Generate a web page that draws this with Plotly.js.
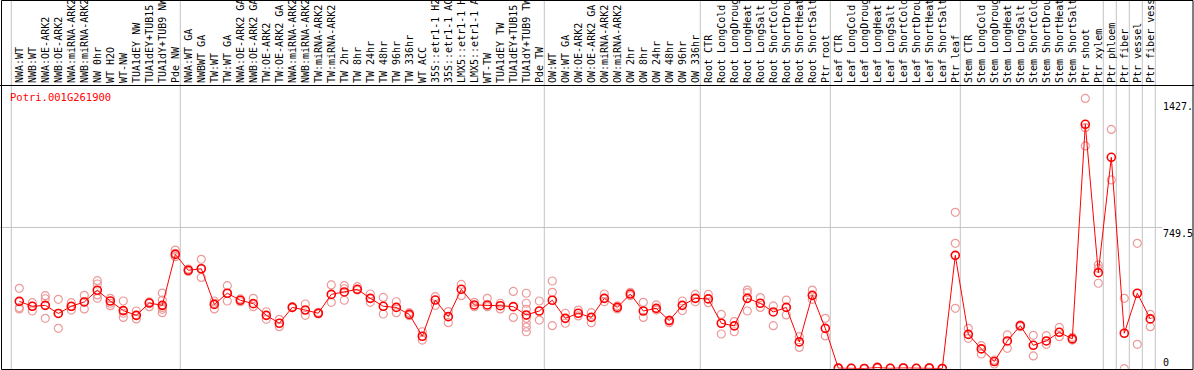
<!DOCTYPE html>
<html><head><meta charset="utf-8">
<script src="https://cdn.plot.ly/plotly-3.0.1.min.js"></script>
<style>html,body{margin:0;padding:0;background:#fff;overflow:hidden;} #chart{width:1194px;height:370px;}</style>
</head><body><div id="chart"></div>
<script>
const geneId = 'Potri.001G261900';

const categories = [
  'NWA:WT','NWB:WT','NWA:OE-ARK2','NWB:OE-ARK2','NWA:miRNA-ARK2','NWB:miRNA-ARK2','NW 0hr','WT H2O','WT-NW','TUA1dEY NW','TUA1dEY+TUB15','TUA1dY+TUB9 NW','Pde NW',
  'NWA:WT GA','NWBWT GA','TW:WT','TW:WT GA','NWA:OE-ARK2 GA','NWB:OE-ARK2 GA','TW:OE-ARK2','TW:OE-ARK2 GA','NWA:miRNA-ARK2','NWB:miRNA-ARK2','TW:miRNA-ARK2','TW:miRNA-ARK2',
  'TW 2hr','TW 8hr','TW 24hr','TW 48hr','TW 96hr','TW 336hr','WT ACC','35S::etr1-1 H2','35S::etr1-1 AC','LMX5::etr1-1 H','LMX5::etr1-1 A','WT-TW','TUA1dEY TW','TUA1dEY+TUB15','TUA1dY+TUB9 TW','Pde TW',
  'OW:WT','OW:WT GA','OW:OE-ARK2','OW:OE-ARK2 GA','OW:miRNA-ARK2','OW:miRNA-ARK2','OW 2hr','OW 8hr','OW 24hr','OW 48hr','OW 96hr','OW 336hr',
  'Root CTR','Root LongCold','Root LongDroug','Root LongHeat','Root LongSalt','Root ShortCold','Root ShortDrou','Root ShortHeat','Root ShortSalt','Ptr root',
  'Leaf CTR','Leaf LongCold','Leaf LongDroug','Leaf LongHeat','Leaf LongSalt','Leaf ShortCold','Leaf ShortDrou','Leaf ShortHeat','Leaf ShortSalt','Ptr leaf',
  'Stem CTR','Stem LongCold','Stem LongDroug','Stem LongHeat','Stem LongSalt','Stem ShortCold','Stem ShortDrou','Stem ShortHeat','Stem ShortSalt','Ptr shoot',
  'Ptr xylem','Ptr phloem','Ptr fiber','Ptr vessel','Ptr fiber vess'
];

const means = [
  357,331,336,293,331,354,416,359,308,283,348,336,606,
  522,530,341,400,363,345,283,241,325,311,294,
  394,407,421,373,331,325,288,172,364,276,421,338,338,334,329,285,306,
  363,267,294,272,373,325,396,306,320,255,336,373,
  370,241,227,373,347,301,325,142,389,214,
  3,2,1,6,2,4,2,4,1,601,
  182,105,38,147,228,124,147,193,158,1296,
  509,1121,188,400,264
];

const samples = [
  [426,324,317],[350,332,306],[387,371,267],[368,294,214],[350,311,329],[389,317,354],[467,449,391,373],[373,334,347],[359,272,294],[306,264,283],[348,329,354],[401,364,315,297,325],[629,594,612],
  [528,516],[580,484,530],[359,317,347],[440,359,400],[370,355],[373,329],[302,262],[262,223],[329,324],[343,283],[299,290],
  [444,352],[440,424,363],[435,417],[396,352],[378,290],[355,297],[297,281],[196,152],[382,336],[303,244],[447,387],[352,329],[373,329],[347,317],[410,272],[400,347,315,267,241,220,196],[359,258],
  [465,405,228],[294,241],[311,280],[297,244],[396,355],[333,317],[405,387],[352,272],[338,311],[258,244],[359,308],[394,355],
  [394,350],[288,184],[250,196],[417,403,306],[377,325],[333,228],[364,285],[170,113],[417,368],[267,174],
  [5,1],[3,1],[2,0],[10,3],[3,1],[6,2],[3,1],[6,2],[2,0],[829,665,320],
  [214,161],[122,78],[46,25],[179,108],[232,223],[177,68],[175,129],[219,170],[166,152],[1433,1278,1181],
  [550,532,453],[1269,1001],[373,0],[665,129],[288,223]
];

// indices after which a vertical separator is drawn
const groupEnds = [0, 13, 41, 53, 63, 73, 84, 85, 86, 87, 88];

const yTickVals = [0, 749.5, 1427];
const yTickText = ['0', '749.5', '1427.'];
const yMax = 1499;

// ---- layout geometry (pixels) ----
const W = 1194, H = 370;
const stepPx = 13, firstPx = 19.3;
const plotRightPx = 1162, plotTopPx = 86, plotBottomPx = 368.7;
const xr0 = 1 - firstPx / stepPx;
const xr1 = xr0 + plotRightPx / stepPx;
const sepOffset = 5 / stepPx;

const xs = categories.map((_, i) => i + 1);
const sx = [], sy = [];
samples.forEach((arr, i) => arr.forEach(v => { sx.push(i + 1); sy.push(v); }));

const mono = 'DejaVu Sans Mono, monospace';
const red = '#ff0000';

const traces = [
  { type: 'scatter', mode: 'markers', x: sx, y: sy, hoverinfo: 'skip',
    marker: { symbol: 'circle-open', size: 8, color: '#ec9a9a', line: { width: 1.2, color: '#ec9a9a' } } },
  { type: 'scatter', mode: 'lines+markers', x: xs, y: means,
    line: { color: red, width: 1 },
    marker: { symbol: 'circle-open', size: 8, color: red, line: { width: 1.6, color: red } } }
];

const shapes = groupEnds.map(k => ({
  type: 'line', xref: 'x', yref: 'paper', x0: k + sepOffset, x1: k + sepOffset, y0: 0, y1: 1,
  line: { color: '#c4c4c4', width: 1 }, layer: 'below'
}));
shapes.push({ type: 'line', xref: 'paper', yref: 'paper', x0: 0, x1: 1,
  y0: 1 - (plotTopPx - 0.5) / H, y1: 1 - (plotTopPx - 0.5) / H, line: { color: '#000', width: 1 } });
shapes.push({ type: 'rect', xref: 'paper', yref: 'paper',
  x0: 1.5 / W, x1: (W - 1) / W, y0: 1 - 369.5 / H, y1: 1 - 0.5 / H,
  line: { color: '#000', width: 1 }, fillcolor: 'rgba(0,0,0,0)' });

const annotations = [{
  xref: 'paper', yref: 'paper', x: 8 / W, y: 1 - 97 / H, xanchor: 'left', yanchor: 'middle',
  text: geneId, showarrow: false, font: { family: mono, size: 10.5, color: red }
}];
yTickVals.forEach((v, i) => annotations.push({
  xref: 'paper', yref: 'y', x: 1162 / W, y: v, xanchor: 'left', yanchor: v === 0 ? 'bottom' : 'top',
  text: yTickText[i], showarrow: false, font: { family: mono, size: 10, color: '#000' }, borderpad: 0
}));

const layout = {
  width: W, height: H, margin: { l: 0, r: 0, t: 0, b: 0, pad: 0 },
  paper_bgcolor: '#fff', plot_bgcolor: 'rgba(0,0,0,0)', showlegend: false,
  xaxis: {
    domain: [0, plotRightPx / W], range: [xr0, xr1], side: 'top',
    tickmode: 'array', tickvals: xs, ticktext: categories, tickangle: -90,
    ticks: '', showgrid: false, zeroline: false, showline: false, automargin: false,
    tickfont: { family: mono, size: 10, color: '#000' }, ticklabelstandoff: 2, fixedrange: true
  },
  yaxis: {
    domain: [1 - plotBottomPx / H, 1 - plotTopPx / H], range: [0, yMax],
    tickmode: 'array', tickvals: [yTickVals[1]], showticklabels: false, ticks: '',
    showgrid: true, gridcolor: '#c4c4c4', gridwidth: 1, zeroline: false, showline: false,
    automargin: false, fixedrange: true
  },
  shapes, annotations
};

Plotly.newPlot('chart', traces, layout, { staticPlot: true, displayModeBar: false });
</script></body></html>
